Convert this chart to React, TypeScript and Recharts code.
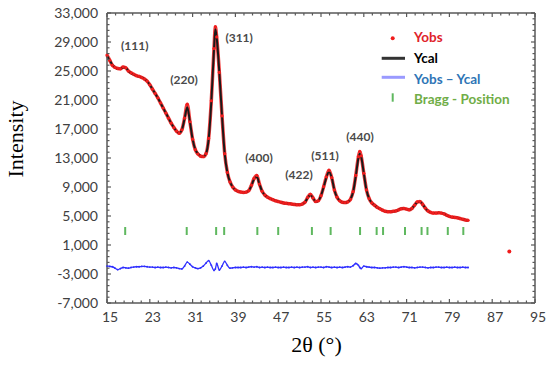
import React from "react";
import { ComposedChart, Line, Scatter, XAxis, YAxis, ReferenceDot, ReferenceLine, Legend } from "recharts";

// 2θ grid (degrees) and intensities
const twoTheta = [
  15, 15.5, 16, 16.5, 17, 17.5, 18, 18.5, 19, 19.5,
  20, 20.5, 21, 21.5, 22, 22.5, 23, 23.5, 24, 24.5,
  25, 25.5, 26, 26.5, 27, 27.5, 28, 28.5, 29, 29.5,
  30, 30.5, 31, 31.5, 32, 32.5, 33, 33.5, 34, 34.5,
  35, 35.25, 35.5, 36, 36.5, 37, 37.5, 38, 38.5, 39, 39.5,
  40, 40.5, 41, 41.5, 42, 42.5, 43, 43.5, 44, 44.5,
  45, 45.5, 46, 46.5, 47, 47.5, 48, 48.5, 49, 49.5,
  50, 50.5, 51, 51.5, 52, 52.5, 53, 53.5, 54, 54.5,
  55, 55.5, 56, 56.5, 57, 57.5, 58, 58.5, 59, 59.5,
  60, 60.5, 61, 61.5, 62, 62.25, 62.5, 63, 63.5, 64, 64.5,
  65, 65.5, 66, 66.5, 67, 67.5, 68, 68.5, 69, 69.5,
  70, 70.5, 71, 71.5, 72, 72.5, 73, 73.5, 74, 74.5,
  75, 75.5, 76, 76.5, 77, 77.5, 78, 78.5, 79, 79.5,
  80, 80.5, 81, 81.5, 82, 82.5,
];

const yCal = [
  27100, 26500, 25900, 25500, 25300, 25300, 25500, 25450, 25000, 24700,
  24500, 24350, 24200, 24100, 23900, 23600, 23100, 22500, 21900, 21300,
  20600, 19900, 19200, 18500, 17800, 17200, 16700, 16450, 16900, 18400,
  20000, 18000, 15600, 14200, 13600, 13300, 13200, 13600, 15600, 20800,
  28000, 30800, 29600, 24800, 18800, 13600, 11000, 9700, 9000, 8600, 8400,
  8300, 8250, 8300, 8500, 9200, 10100, 10400, 9400, 8400, 7900,
  7600, 7400, 7250, 7100, 7000, 6900, 6800, 6750, 6700, 6650,
  6600, 6550, 6550, 6650, 6900, 7500, 7900, 7500, 7000, 7100,
  7800, 9000, 10300, 11100, 10300, 8600, 7600, 7100, 6900, 6850,
  6950, 7300, 8300, 10500, 13000, 13600, 13200, 10900, 8600, 7400, 6800,
  6500, 6200, 6000, 5800, 5650, 5600, 5600, 5650, 5700, 5850,
  6000, 6050, 5950, 5850, 6050, 6500, 6900, 6950, 6600, 6100,
  5700, 5500, 5400, 5400, 5450, 5400, 5300, 5100, 4950, 4850,
  4800, 4750, 4650, 4550, 4450, 4400,
];

const yObs = [
  27200, 26500, 25800, 25500, 25350, 25300, 25550, 25450, 25000, 24750,
  24550, 24350, 24250, 24100, 23900, 23600, 23100, 22500, 21900, 21300,
  20600, 19900, 19200, 18500, 17800, 17200, 16700, 16400, 16900, 18500,
  20400, 18000, 15600, 14150, 13550, 13250, 13200, 13600, 15700, 20900,
  28100, 31100, 29700, 24800, 18800, 13600, 11000, 9700, 9000, 8600, 8400,
  8300, 8250, 8300, 8500, 9250, 10200, 10600, 9400, 8400, 7900,
  7600, 7400, 7250, 7100, 7000, 6900, 6800, 6750, 6700, 6650,
  6600, 6550, 6550, 6650, 6900, 7550, 8000, 7500, 7000, 7100,
  7800, 9050, 10400, 11300, 10300, 8600, 7600, 7100, 6900, 6850,
  6950, 7300, 8350, 10600, 13200, 13900, 13300, 10900, 8600, 7400, 6800,
  6500, 6200, 6000, 5800, 5650, 5600, 5600, 5650, 5700, 5850,
  6000, 6050, 5950, 5850, 6050, 6500, 6950, 7000, 6600, 6100,
  5700, 5500, 5400, 5400, 5450, 5400, 5300, 5100, 4950, 4850,
  4800, 4750, 4650, 4550, 4450, 4400,
];

const yDiff = [
  -1900, -1950, -2000, -2200, -2400, -2250, -2100, -2150, -2200, -2100,
  -2050, -2000, -2000, -1950, -1950, -2000, -2050, -2050, -2100, -2050,
  -2100, -2100, -2050, -2100, -2150, -2100, -2150, -2250, -2300, -1900,
  -1350, -1650, -2000, -2150, -2250, -2150, -1900, -1500, -1150, -1800,
  -2500, -2300, -1550, -2450, -1900, -1250, -1800, -2200, -2150, -2100, -2100,
  -2100, -2050, -2100, -2050, -2000, -2050, -2000, -2100, -2050, -2100,
  -2050, -2100, -2100, -2050, -2100, -2100, -2050, -2100, -2100, -2050,
  -2100, -2050, -2100, -2050, -2050, -2000, -2100, -2050, -2100, -2050,
  -2050, -2100, -2000, -2050, -2100, -2050, -2100, -2050, -2100, -2050,
  -2000, -2050, -1850, -1550, -1800, -2100, -2250, -1900, -2000, -2050, -2100,
  -2100, -2150, -2200, -2150, -2150, -2100, -2100, -2050, -2050, -2100,
  -2050, -2000, -2050, -2100, -2100, -2150, -2100, -2050, -2050, -2100,
  -2150, -2100, -2100, -2050, -2050, -2100, -2100, -2050, -2100, -2100,
  -2050, -2100, -2100, -2050, -2100, -2100,
];

// lone observed point near the legend
const strayTheta = [90.2];
const strayValue = [100];

const braggTheta = [18.4, 29.9, 35.4, 36.9, 43.1, 47.0, 53.3, 56.8, 62.3, 65.4, 66.6, 70.7, 73.8, 74.9, 78.7, 81.6];
const braggLevel = 2930;

const xTickLabels = [15, 23, 31, 39, 47, 55, 63, 71, 79, 87, 95];
const yTickLabels = [-7000, -3000, 1000, 5000, 9000, 13000, 17000, 21000, 25000, 29000, 33000];

const peakNames = ["(111)", "(220)", "(311)", "(400)", "(422)", "(511)", "(440)"];
const peakLabelTheta = [20.2, 29.4, 39.7, 43.4, 50.9, 55.75, 62.3];
const peakLabelIntensity = [28450, 23760, 29550, 13000, 10650, 13320, 15900];

const legendNames = ["Yobs", "Ycal", "Yobs \u2013 Ycal", "Bragg - Position"];

const data = twoTheta.map((t, i) => ({ t, obs: yObs[i], cal: yCal[i], diff: yDiff[i] }));
const braggData = braggTheta.map((t) => ({ t, v: braggLevel }));
const strayData = strayTheta.map((t, i) => ({ t, v: strayValue[i] }));

// Excel-style minor ticks (5 per major interval)
const xAllTicks = Array.from({ length: 51 }, (_, i) => Math.round((15 + i * 1.6) * 100) / 100);
const yAllTicks = Array.from({ length: 51 }, (_, i) => -7000 + i * 800);

const M = { top: 13, right: 15, left: 107, bottom: 63 };
const PLOT_W = 550 - M.left - M.right;
const PLOT_H = 366 - M.top - M.bottom;
const AXIS = "#595959";
const SANS = "Lato, 'Open Sans', sans-serif";
const SERIF = "'Liberation Serif', 'DejaVu Serif', serif";
const RED = "#f01c1c";
const BLUE = "#2f2fff";
const GREEN = "#5fb85f";

const fmt = (v: number) => v.toLocaleString("en-US");

// bottom tick also mirrors a tick on the top frame edge
const BottomTick = ({ x, y, payload }: any) => {
  const major = xTickLabels.includes(payload.value);
  const len = major ? 4 : 2.5;
  return (
    <g>
      <line x1={x} x2={x} y1={y} y2={y - len} stroke={AXIS} strokeWidth={1.2} />
      <line x1={x} x2={x} y1={y - PLOT_H} y2={y - PLOT_H + len} stroke={AXIS} strokeWidth={1.2} />
      {major && (
        <text x={x + 3} y={y + 19} textAnchor="middle" fontFamily={SANS} fontSize={14} fill="#404040">
          {payload.value}
        </text>
      )}
    </g>
  );
};

// left tick also mirrors a tick on the right frame edge
const LeftTick = ({ x, y, payload }: any) => {
  const major = yTickLabels.includes(payload.value);
  const len = major ? 4 : 2.5;
  return (
    <g>
      <line x1={x} x2={x + len} y1={y} y2={y} stroke={AXIS} strokeWidth={1.2} />
      <line x1={x + PLOT_W - len} x2={x + PLOT_W} y1={y} y2={y} stroke={AXIS} strokeWidth={1.2} />
      {major && (
        <text x={x - 9} y={y + 5} textAnchor="end" fontFamily={SANS} fontSize={14} fill="#404040">
          {fmt(payload.value)}
        </text>
      )}
    </g>
  );
};

const BraggMark = ({ cx, cy }: any) => (
  <line x1={cx} x2={cx} y1={cy - 4} y2={cy + 4} stroke={GREEN} strokeWidth={2} />
);

const StrayDot = ({ cx, cy }: any) => <circle cx={cx} cy={cy} r={2} fill={RED} />;

const PeakText = (name: string) => ({ cx, cy }: any) => (
  <text x={cx} y={cy + 4} textAnchor="middle" fontFamily={SANS} fontWeight="bold" fontSize={12} fill="#4a4a4a">
    {name}
  </text>
);

const LegendBox = () => {
  const textProps = { fontFamily: SANS, fontWeight: "bold" as const, fontSize: 13.5 };
  return (
    <svg width={155} height={90}>
      <circle cx={17.7} cy={13.3} r={2} fill={RED} />
      <text x={39} y={16.5} fill="#e0232b" {...textProps}>{legendNames[0]}</text>
      <line x1={6.7} x2={30} y1={33.3} y2={33.3} stroke="#333" strokeWidth={3} />
      <text x={39} y={38.3} fill="#000" {...textProps}>{legendNames[1]}</text>
      <line x1={6.7} x2={30} y1={52.3} y2={52.3} stroke="#9a9aff" strokeWidth={3} />
      <text x={39} y={59} fill="#2e75b6" {...textProps}>{legendNames[2]}</text>
      <line x1={17.7} x2={17.7} y1={68.3} y2={76.7} stroke={GREEN} strokeWidth={2} />
      <text x={39} y={79.3} fill="#70ad47" {...textProps}>{legendNames[3]}</text>
    </svg>
  );
};

export default function App() {
  return (
    <div style={{ position: "absolute", left: 0, top: 0, width: 550, height: 366, background: "#fff" }}>
      <ComposedChart width={550} height={366} data={data} margin={{ top: M.top, right: M.right, bottom: 0, left: 0 }}>
        <XAxis
          dataKey="t"
          type="number"
          domain={[15, 95]}
          ticks={xAllTicks}
          interval={0}
          tick={BottomTick}
          tickLine={false}
          tickSize={0}
          tickMargin={0}
          height={M.bottom}
          axisLine={{ stroke: AXIS, strokeWidth: 1.5 }}
          label={{
            content: ({ viewBox }: any) => (
              <text
                x={viewBox.x + viewBox.width / 2 - 4.5}
                y={viewBox.y + 49}
                textAnchor="middle"
                fontFamily={SERIF}
                fontSize={22}
                fill="#000"
              >
                2θ (°)
              </text>
            ),
          }}
        />
        <YAxis
          type="number"
          domain={[-7000, 33000]}
          ticks={yAllTicks}
          interval={0}
          tick={LeftTick}
          tickLine={false}
          tickSize={0}
          tickMargin={0}
          width={M.left}
          axisLine={{ stroke: AXIS, strokeWidth: 1.5 }}
          label={{
            content: ({ viewBox }: any) => (
              <text
                transform={`translate(${viewBox.x + 23}, ${viewBox.y + viewBox.height / 2 - 19}) rotate(-90)`}
                textAnchor="middle"
                fontFamily={SERIF}
                fontSize={22}
                fill="#000"
              >
                Intensity
              </text>
            ),
          }}
        />
        {/* top and right frame edges */}
        <ReferenceLine y={33000} stroke={AXIS} strokeWidth={1.5} ifOverflow="visible" />
        <ReferenceLine x={95} stroke={AXIS} strokeWidth={1.5} ifOverflow="visible" />
        <Line
          type="monotone"
          dataKey="obs"
          stroke={RED}
          strokeOpacity={0.85}
          strokeWidth={3.5}
          dot={{ r: 1.6, fill: RED, stroke: "none" }}
          activeDot={false}
          isAnimationActive={false}
        />
        <Line
          type="monotone"
          dataKey="cal"
          stroke="#1a1a1a"
          strokeWidth={2}
          dot={false}
          activeDot={false}
          isAnimationActive={false}
        />
        <Line
          type="monotone"
          dataKey="diff"
          stroke={BLUE}
          strokeWidth={1.3}
          dot={{ r: 0.9, fill: BLUE, stroke: "none" }}
          activeDot={false}
          isAnimationActive={false}
        />
        <Scatter data={braggData} dataKey="v" shape={BraggMark} isAnimationActive={false} />
        <Scatter data={strayData} dataKey="v" shape={StrayDot} isAnimationActive={false} />
        {peakNames.map((name, i) => (
          <ReferenceDot
            key={name}
            x={peakLabelTheta[i]}
            y={peakLabelIntensity[i]}
            r={0}
            ifOverflow="visible"
            shape={PeakText(name)}
          />
        ))}
        <Legend
          layout="vertical"
          align="center"
          verticalAlign="middle"
          wrapperStyle={{ left: 375, top: 25, width: 155, height: 90 }}
          content={() => <LegendBox />}
        />
      </ComposedChart>
    </div>
  );
}
